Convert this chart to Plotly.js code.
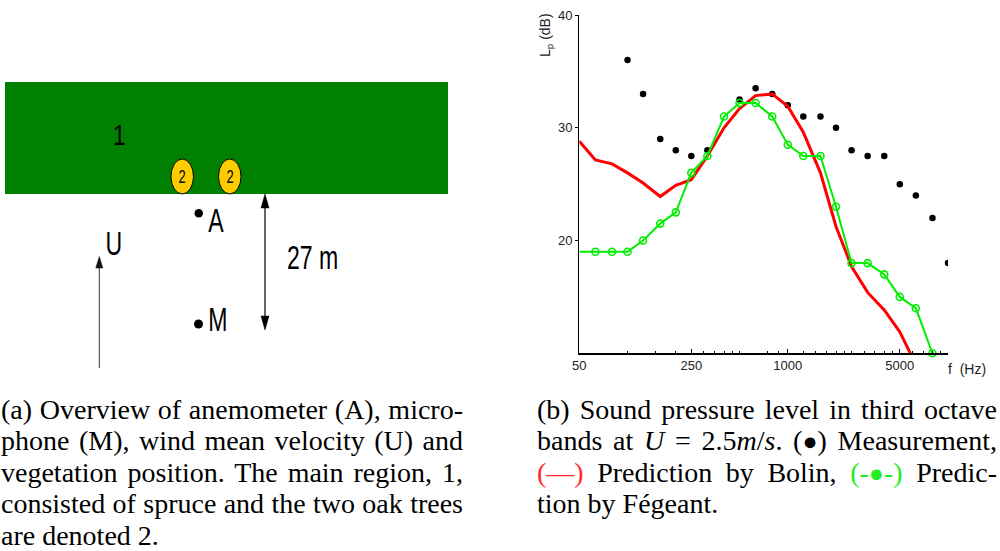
<!DOCTYPE html>
<html>
<head>
<meta charset="utf-8">
<script src="https://cdn.plot.ly/plotly-3.0.1.min.js"></script>
<style>
  html, body { margin: 0; padding: 0; background: #ffffff; }
  #chart { width: 1000px; height: 551px; }
</style>
</head>
<body>
<div id="chart"></div>
<script>
// Third-octave band centre frequencies (Hz)
const freqs = [50, 63, 80, 100, 125, 160, 200, 250, 315, 400, 500, 630,
               800, 1000, 1250, 1600, 2000, 2500, 3150, 4000, 5000, 6300, 8000, 10000];

// Measured sound pressure level (dB); no value at 400 Hz
const measured = [null, null, null, 36.0, 33.0, 29.0, 28.0, 27.5, 28.0, null, 32.5, 33.5,
                  33.0, 32.0, 31.0, 31.0, 30.0, 28.0, 27.5, 27.5, 25.0, 24.0, 22.0, 18.0];

// Prediction by Bolin (dB)
const bolin = [28.8, 27.15, 26.8, 26.0, 25.1, 23.9, 24.9, 25.4, 27.5, 30.0, 31.7, 32.85,
               33.0, 31.9, 29.6, 26.0, 21.25, 17.7, 15.4, 13.85, 11.9, 9.0, null, null];

// Prediction by Fégeant (dB)
const fegeant = [19.0, 19.0, 19.0, 19.0, 20.0, 21.5, 22.5, 26.0, 27.5, 31.0, 32.2, 32.2,
                 31.0, 28.5, 27.5, 27.5, 23.0, 18.0, 18.0, 17.0, 15.0, 14.0, 10.0, null];

// Axis ticks
const xTickVals = [50, 250, 1000, 5000];
const xTickText = ['50', '250', '1000', '5000'];
const xMinorVals = [100, 150, 200, 300, 350, 400, 450, 500, 750, 875, 1250, 1500, 1750,
                    2000, 2250, 2500, 3000, 3500, 4000, 4500, 6000, 7000, 8000, 9000];
const yTickVals = [20, 30, 40];

// Caption lines
const dot = '<span style="font-size:25px">●</span>';
const captionA = [
  '(a) Overview of anemometer (A), micro-',
  'phone (M), wind mean velocity (U) and',
  'vegetation position. The main region, 1,',
  'consisted of spruce and the two oak trees',
  'are denoted 2.'
];
const captionB = [
  '(b) Sound pressure level in third octave',
  'bands at <i>U</i> = 2.5<i>m</i>/<i>s</i>. (' + dot + ') Measurement,',
  '<span style="color:#ff2a2a">(—)</span> Prediction by Bolin, <span style="color:#22ee22">(-' + dot + '-)</span> Predic-',
  'tion by Fégeant.'
];

// Helpers: figure pixel -> paper fraction
const W = 1000, H = 551;
const px = x => x / W;
const py = y => 1 - y / H;

const sans = 'Liberation Sans, Arial, sans-serif';
const serif = 'Liberation Serif, Times New Roman, serif';

const traces = [
  {
    x: freqs, y: measured, type: 'scatter', mode: 'markers', name: 'Measurement',
    marker: { symbol: 'circle', size: 6.5, color: '#000000' }
  },
  {
    x: freqs, y: bolin, type: 'scatter', mode: 'lines', name: 'Bolin',
    line: { color: '#ff0000', width: 3 },
    connectgaps: false
  },
  {
    x: freqs, y: fegeant, type: 'scatter', mode: 'lines+markers', name: 'Fégeant',
    line: { color: '#00ee00', width: 2 },
    marker: { symbol: 'circle-open', size: 7, color: '#00ee00', line: { width: 1.6, color: '#00ee00' } },
    cliponaxis: false
  }
];

// Schematic of the site: vegetation band, oak trees, instruments and arrows
const tri = (x1, y1, x2, y2, x3, y3) =>
  `M ${px(x1)},${py(y1)} L ${px(x2)},${py(y2)} L ${px(x3)},${py(y3)} Z`;

const shapes = [
  { type: 'rect', xref: 'paper', yref: 'paper', x0: px(5), x1: px(448), y0: py(194), y1: py(82),
    fillcolor: '#008000', line: { width: 0 } },
  { type: 'circle', xref: 'paper', yref: 'paper', x0: px(171), x1: px(193.5), y0: py(194), y1: py(159),
    fillcolor: '#ffcc00', line: { color: '#000000', width: 1 } },
  { type: 'circle', xref: 'paper', yref: 'paper', x0: px(218.5), x1: px(241), y0: py(194), y1: py(159),
    fillcolor: '#ffcc00', line: { color: '#000000', width: 1 } },
  // anemometer and microphone positions
  { type: 'circle', xref: 'paper', yref: 'paper', x0: px(194.5), x1: px(203), y0: py(217.5), y1: py(209),
    fillcolor: '#000000', line: { width: 0 } },
  { type: 'circle', xref: 'paper', yref: 'paper', x0: px(194), x1: px(203), y0: py(328.5), y1: py(319.5),
    fillcolor: '#000000', line: { width: 0 } },
  // 27 m distance arrow
  { type: 'line', xref: 'paper', yref: 'paper', x0: px(265), x1: px(265), y0: py(204), y1: py(320),
    line: { color: '#000000', width: 1.2 } },
  { type: 'path', xref: 'paper', yref: 'paper', path: tri(265, 194, 261, 208, 269, 208),
    fillcolor: '#000000', line: { color: '#000000', width: 0.5 } },
  { type: 'path', xref: 'paper', yref: 'paper', path: tri(265, 330, 261, 316, 269, 316),
    fillcolor: '#000000', line: { color: '#000000', width: 0.5 } },
  // wind direction arrow
  { type: 'line', xref: 'paper', yref: 'paper', x0: px(99.3), x1: px(99.3), y0: py(265), y1: py(368),
    line: { color: '#333333', width: 1 } },
  { type: 'path', xref: 'paper', yref: 'paper', path: tri(99.3, 256.5, 95.8, 268, 102.8, 268),
    fillcolor: '#111111', line: { color: '#111111', width: 0.5 } }
];

const annotations = [];
const condensed = {};   // annotation index -> horizontal scale
const justified = {};   // annotation index -> [left, right] in px
const label = (txt, x, y, size, sx) => {
  condensed[annotations.length] = sx;
  annotations.push({
    text: txt, xref: 'paper', yref: 'paper', x: px(x), y: py(y),
    xanchor: 'center', yanchor: 'middle', showarrow: false,
    font: { family: sans, size: size, color: '#000000' }
  });
};
label('1', 119, 134.5, 30, 0.75);
label('2', 182.3, 177, 18, 0.72);
label('2', 229.8, 177, 18, 0.72);
label('A', 216, 220.5, 33, 0.7);
label('M', 218, 319, 33, 0.7);
label('U', 114, 243.5, 33, 0.7);
label('27 m', 312, 257.5, 33, 0.7);

// axis titles
annotations.push({
  text: 'L<sub>p</sub> (dB)', xref: 'paper', yref: 'paper', x: px(546), y: py(35),
  xanchor: 'center', yanchor: 'middle', textangle: -90, showarrow: false,
  font: { family: sans, size: 14, color: '#222222' }
});
annotations.push({
  text: 'f  (Hz)', xref: 'paper', yref: 'paper', x: px(967), y: py(369),
  xanchor: 'center', yanchor: 'middle', showarrow: false,
  font: { family: sans, size: 14, color: '#222222' }
});

// captions, set as justified paragraph lines
const capTop = 409, capStep = 31.5, capSize = 28;
const addCaption = (lines, left, right) => lines.forEach((t, i) => {
  if (i < lines.length - 1) justified[annotations.length] = [left, right];
  else justified[annotations.length] = [left, null];
  annotations.push({
    text: t, xref: 'paper', yref: 'paper', x: px(left), y: py(capTop + i * capStep),
    xanchor: 'left', yanchor: 'middle', showarrow: false, align: 'left',
    font: { family: serif, size: capSize, color: '#000000' }
  });
});
addCaption(captionA, 1, 463);
addCaption(captionB, 537, 997);

const layout = {
  width: W, height: H,
  margin: { l: 0, r: 0, t: 0, b: 0, pad: 0 },
  paper_bgcolor: '#ffffff', plot_bgcolor: 'rgba(0,0,0,0)',
  showlegend: false,
  xaxis: {
    type: 'log', range: [Math.log10(50), Math.log10(10000)],
    domain: [px(579.3), px(948)],
    tickmode: 'array', tickvals: xTickVals, ticktext: xTickText,
    ticks: 'inside', ticklen: 4, tickwidth: 1, tickcolor: '#000000',
    minor: { tickmode: 'array', tickvals: xMinorVals, ticks: 'inside', ticklen: 2.5, tickwidth: 1, tickcolor: '#000000', showgrid: false },
    showline: true, linecolor: '#000000', linewidth: 1.3, mirror: false,
    showgrid: false, zeroline: false,
    tickfont: { family: sans, size: 13, color: '#222222' },
    anchor: 'y'
  },
  yaxis: {
    range: [10, 40],
    domain: [py(353.3), py(15)],
    tickmode: 'array', tickvals: yTickVals,
    ticks: 'outside', ticklen: 3, tickwidth: 1, tickcolor: '#000000',
    showline: true, linecolor: '#000000', linewidth: 1.3,
    showgrid: false, zeroline: false,
    tickfont: { family: sans, size: 13, color: '#222222' },
    anchor: 'x'
  },
  shapes: shapes,
  annotations: annotations
};

const gd = document.getElementById('chart');
Plotly.newPlot(gd, traces, layout, { staticPlot: true, displayModeBar: false }).then(() => {
  const host = gd.getBoundingClientRect();
  gd.querySelectorAll('g.annotation').forEach(g => {
    const idx = +g.getAttribute('data-index');
    const text = g.querySelector('text.annotation-text');
    if (!text) return;
    const base = text.getAttribute('transform') || '';
    if (condensed[idx] !== undefined) {
      // narrow lettering for the schematic labels
      const bb = text.getBBox();
      const cx = bb.x + bb.width / 2;
      const s = condensed[idx];
      text.setAttribute('transform', `${base} translate(${cx},0) scale(${s},1) translate(${-cx},0)`);
    } else if (justified[idx] !== undefined) {
      const [left, right] = justified[idx];
      const spaces = (text.textContent.match(/ /g) || []).length;
      let r = text.getBoundingClientRect();
      if (right !== null && spaces > 0) {
        const extra = (right - left) - r.width;
        text.style.wordSpacing = (extra / spaces) + 'px';
        r = text.getBoundingClientRect();
      }
      const dx = left - (r.left - host.left);
      text.setAttribute('transform', `${base} translate(${dx},0)`);
    }
  });
});
</script>
</body>
</html>
